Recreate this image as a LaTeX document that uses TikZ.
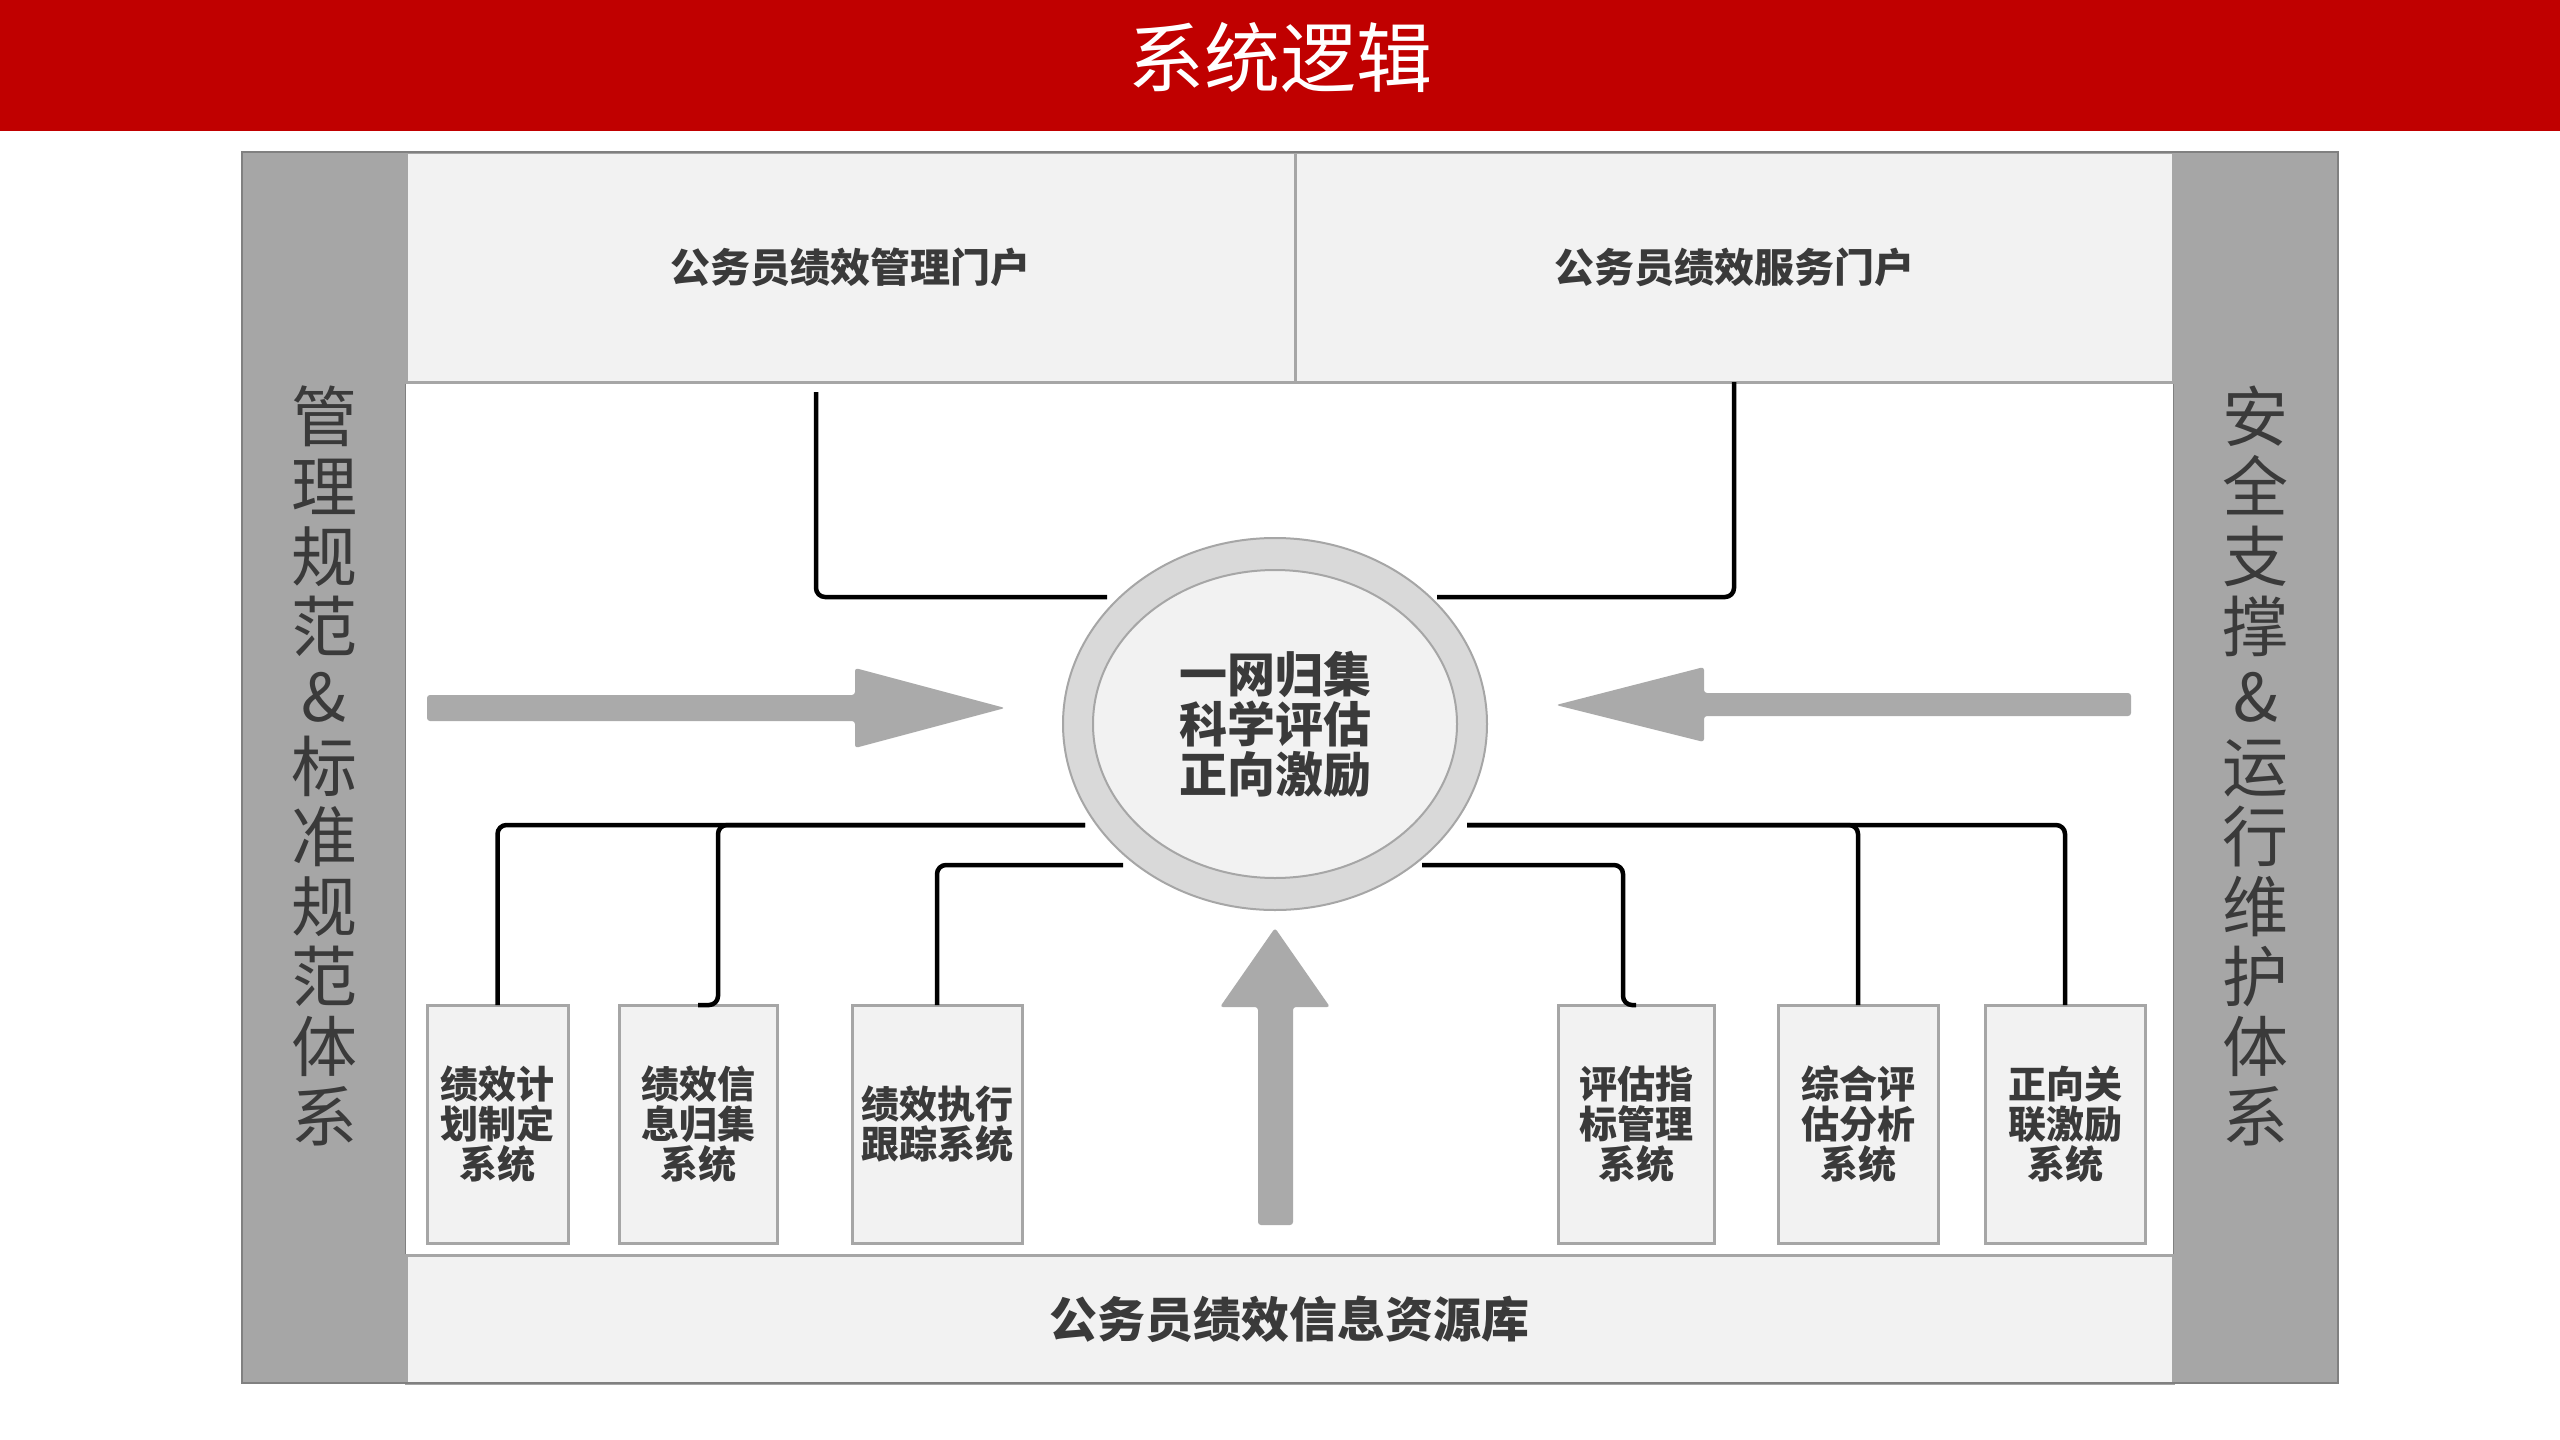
\documentclass[tikz,border=0pt]{standalone}
\usepackage{fontspec}
\setmainfont{Noto Sans CJK SC}
\usetikzlibrary{shapes.geometric}
\definecolor{banner}{HTML}{C00000}
\definecolor{colgray}{HTML}{A6A6A6}
\definecolor{panel}{HTML}{F2F2F2}
\definecolor{ring}{HTML}{D9D9D9}
\definecolor{edge}{HTML}{A6A6A6}
\definecolor{frameedge}{HTML}{808080}
\definecolor{txt}{HTML}{3A3A3A}
\definecolor{arrowgray}{HTML}{AAAAAA}
\tikzset{
 colbox/.style={rectangle, fill=colgray, draw=frameedge, line width=2pt, inner sep=0pt, outer sep=0pt},
 portal/.style={rectangle, fill=panel, draw=edge, line width=3pt, inner sep=0pt, outer sep=0pt, text=txt, font=\bfseries\fontsize{40}{44}\selectfont},
 sysbox/.style={rectangle, fill=panel, draw=edge, line width=3pt, minimum height=238pt, inner sep=0pt, outer sep=0pt, text=txt, align=center, font=\bfseries\fontsize{38}{40}\selectfont},
 sidetext/.style={text=txt, align=center, font=\fontsize{66}{70}\selectfont, inner sep=0pt},
 conn/.style={line width=4.5pt, black, rounded corners=9pt},
 bigarrow/.style={fill=arrowgray, rounded corners=3pt},
}
\begin{document}
\begin{tikzpicture}[x=1pt,y=-1pt]
\useasboundingbox (0,0) rectangle (2560,1440);
\fill[white] (0,0) rectangle (2560,1440);
\fill[banner] (0,0) rectangle (2560,131);
\node[text=white, font=\fontsize{76}{80}\selectfont, inner sep=0pt] (title) at (1280,57) {系统逻辑};

% outer frame
\node[colbox, minimum width=164pt, minimum height=1231pt] (lcol) at (324,767.5) {};
\node[colbox, minimum width=165pt, minimum height=1231pt] (rcol) at (2255.5,767.5) {};
\fill[white] (406,382) rectangle (2173,1255);
\node[portal, minimum width=889pt, minimum height=230pt] (pm) at (850.5,267) {公务员绩效管理门户};
\node[portal, minimum width=878pt, minimum height=230pt] (ps) at (1734,267) {公务员绩效服务门户};
\node[portal, minimum width=1767pt, minimum height=128pt, font=\bfseries\fontsize{48}{50}\selectfont] (db) at (1289.5,1319) {公务员绩效信息资源库};
\draw[frameedge, line width=2pt] (242,152) rectangle (2338,1383);

\node[sidetext] (ltext) at (324,766) {管\\理\\规\\范\\\&\\标\\准\\规\\范\\体\\系};
\node[sidetext] (rtext) at (2255.5,766) {安\\全\\支\\撑\\\&\\运\\行\\维\\护\\体\\系};

% system boxes
\node[sysbox, minimum width=141pt] (b1) at (497.5,1124) {绩效计\\划制定\\系统};
\node[sysbox, minimum width=158pt] (b2) at (698,1124) {绩效信\\息归集\\系统};
\node[sysbox, minimum width=170pt] (b3) at (937,1124) {绩效执行\\跟踪系统};
\node[sysbox, minimum width=156pt] (b4) at (1636,1124) {评估指\\标管理\\系统};
\node[sysbox, minimum width=160pt] (b5) at (1858,1124) {综合评\\估分析\\系统};
\node[sysbox, minimum width=160pt] (b6) at (2065,1124) {正向关\\联激励\\系统};

% core
\node[ellipse, fill=ring, draw=edge, line width=2pt, minimum width=424pt, minimum height=372pt, inner sep=0pt] (core) at (1275,724) {};
\node[ellipse, fill=panel, draw=edge, line width=2pt, minimum width=364pt, minimum height=308pt, inner sep=0pt, text=txt, align=center, font=\bfseries\fontsize{48}{50}\selectfont] (corein) at (1275,724) {一网归集\\科学评估\\正向激励};

% connector free ends near the core
\coordinate (tl) at (1107,597);
\coordinate (tr) at (1437,597);
\coordinate (jL1) at (1085,825);
\coordinate (jL2) at (1123,865);
\coordinate (jR1) at (1467,825);
\coordinate (jR2) at (1422,865);

\draw[conn] ([xshift=-34.5pt,yshift=-10pt]pm.south) |- (tl);
\draw[conn] (ps.south) |- (tr);
\draw[conn] (b1.north) |- (jL1);
\draw[conn] (b2.north) -- ([xshift=20pt]b2.north) |- (jL1);
\draw[conn] (b3.north) |- (jL2);
\draw[conn] (b4.north) -- ([xshift=-13pt]b4.north) |- (jR2);
\draw[conn] (b5.north) |- (jR1);
\draw[conn] (b6.north) |- (jR1);

% big arrows
\fill[bigarrow] (427,695) -- (855,695) -- (855,668) -- (1005,708) -- (855,748) -- (855,721) -- (427,721) -- cycle;
\fill[bigarrow] (2131,693) -- (1704,693) -- (1704,667) -- (1556,705) -- (1704,742) -- (1704,716) -- (2131,716) -- cycle;
\fill[bigarrow] (1258,1225) -- (1258,1007) -- (1220,1007) -- (1275,928) -- (1330,1007) -- (1293,1007) -- (1293,1225) -- cycle;
\end{tikzpicture}
\end{document}
